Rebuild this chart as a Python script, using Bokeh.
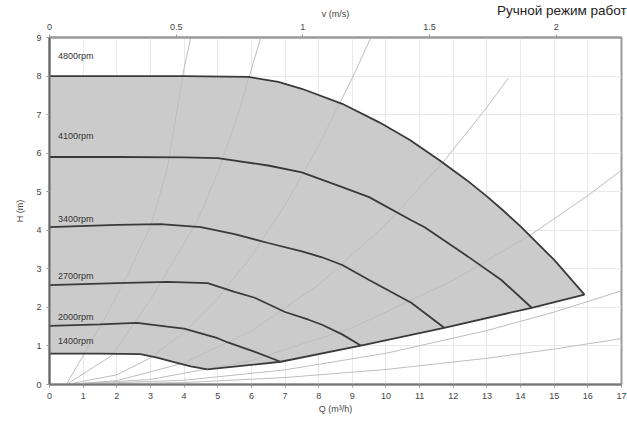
from bokeh.plotting import figure
from bokeh.models import Range1d, LinearAxis, FixedTicker, Div
from bokeh.layouts import column
from bokeh.embed import file_html
from bokeh.resources import INLINE
from bokeh.core.properties import value

# ---- data ----
speeds = ["4800rpm", "4100rpm", "3400rpm", "2700rpm", "2000rpm", "1400rpm"]
q_4800 = [0, 2, 4, 5.9, 6.8, 7.5, 8.7, 9.8, 10.7, 11.6, 12.4, 13.0, 13.5, 14.0, 15.0, 15.9]
h_4800 = [8.0, 8.0, 8.0, 7.98, 7.85, 7.67, 7.28, 6.8, 6.35, 5.81, 5.3, 4.88, 4.5, 4.1, 3.23, 2.33]
q_4100 = [0, 2, 4, 5.0, 6.5, 7.5, 8.7, 9.5, 10.75, 11.15, 12.45, 13.43, 14.33]
h_4100 = [5.9, 5.9, 5.89, 5.87, 5.68, 5.5, 5.12, 4.86, 4.26, 4.08, 3.31, 2.71, 1.99]
q_3400 = [0, 2, 3.3, 4.5, 5.5, 6.5, 7.5, 8.1, 8.7, 9.5, 10.75, 11.73]
h_3400 = [4.08, 4.14, 4.16, 4.08, 3.9, 3.67, 3.45, 3.3, 3.1, 2.71, 2.12, 1.47]
q_2700 = [0, 2, 3.5, 4.7, 5.5, 6.1, 7.0, 7.7, 8.1, 8.7, 9.25]
h_2700 = [2.58, 2.63, 2.66, 2.63, 2.4, 2.25, 1.88, 1.68, 1.55, 1.3, 1.01]
q_2000 = [0, 1.5, 2.6, 3.5, 4.0, 5.0, 5.3, 6.0, 6.87]
h_2000 = [1.52, 1.56, 1.6, 1.5, 1.45, 1.2, 1.09, 0.88, 0.59]
q_1400 = [0, 1.5, 2.7, 3.2, 3.7, 4.2, 4.69]
h_1400 = [0.8, 0.8, 0.79, 0.7, 0.58, 0.47, 0.39]
# lower limit (end points of the speed curves)
q_limit = [4.69, 6.87, 9.25, 11.73, 14.33, 15.9]
h_limit = [0.39, 0.59, 1.01, 1.47, 1.99, 2.33]
# label positions (H level of each speed label)
label_h = [8.52, 6.45, 4.29, 2.82, 1.76, 1.14]

# system curves (thin grey)
sys_q = [
    [0.5, 1.0, 1.7, 2.4, 3.0, 3.5, 4.0, 4.2],
    [0.5, 1.85, 3.0, 4.4, 5.0, 5.6, 6.28],
    [0.5, 2, 3, 4, 5, 6, 7, 8, 9, 9.55],
    [0.5, 2, 4, 6, 8, 10, 11.73, 13.0, 13.64],
    [0.5, 3, 6, 9, 12, 14.33, 16, 17],
    [0.5, 4, 7, 10, 13, 15, 17],
    [0.5, 4, 7, 10, 13, 15, 17],
]
sys_h = [
    [0, 0.75, 1.8, 3.0, 4.1, 5.6, 8.2, 9.0],
    [0, 0.75, 2.2, 4.25, 5.5, 7.0, 9.0],
    [0, 0.25, 0.69, 1.35, 2.23, 3.33, 4.65, 6.19, 7.95, 9.0],
    [0, 0.10, 0.56, 1.39, 2.59, 4.15, 5.80, 7.19, 7.95],
    [0, 0.13, 0.62, 1.47, 2.70, 3.90, 4.90, 5.56],
    [0, 0.11, 0.38, 0.81, 1.40, 1.88, 2.43],
    [0, 0.05, 0.18, 0.39, 0.68, 0.92, 1.19],
]

q_ticks = list(range(0, 18))
h_ticks = list(range(0, 10))
v_ticks = [0, 0.5, 1, 1.5, 2]
v_per_q = 1 / 7.53
title_text = "Ручной режим работ"

FONT = "Liberation Sans"

p = figure(width=627, height=421, output_backend="svg", toolbar_location=None,
           x_range=Range1d(0, 17), y_range=Range1d(0, 9),
           min_border_left=49, min_border_right=6, min_border_top=37, min_border_bottom=37)
p.extra_x_ranges = {"v": Range1d(0, 17 * v_per_q)}

p.outline_line_color = "#9a9a9a"
p.outline_line_width = 2
p.background_fill_color = "white"
p.border_fill_color = "white"

p.xgrid.ticker = FixedTicker(ticks=q_ticks)
p.ygrid.ticker = FixedTicker(ticks=h_ticks)
p.xgrid.grid_line_color = "#e8e8e8"
p.ygrid.grid_line_color = "#e8e8e8"

def style_axis(ax):
    ax.major_label_text_font = FONT
    ax.major_label_text_font_size = "9px"
    ax.major_label_text_color = "#444444"
    ax.axis_label_text_font = FONT
    ax.axis_label_text_font_size = "9px"
    ax.axis_label_text_font_style = "normal"
    ax.axis_label_text_color = "#444444"
    ax.minor_tick_line_color = None
    ax.major_tick_line_color = "#999999"
    ax.major_tick_in = 0
    ax.major_tick_out = 3
    ax.axis_line_color = "#666666"
    ax.axis_line_width = 2

xa = p.xaxis[0]
xa.ticker = FixedTicker(ticks=q_ticks)
xa.axis_label = "Q (m³/h)"
xa.axis_label_standoff = 2
style_axis(xa)
xa.axis_line_color = "#777777"

ya = p.yaxis[0]
ya.ticker = FixedTicker(ticks=h_ticks)
ya.axis_label = "H (m)"
ya.axis_label_standoff = 8
style_axis(ya)

top = LinearAxis(x_range_name="v", axis_label="v (m/s)")
top.ticker = FixedTicker(ticks=v_ticks)
style_axis(top)
top.axis_line_color = "#9a9a9a"
top.axis_label_standoff = 2
p.add_layout(top, "above")

# gray operating area
poly_q = [0] + q_4800 + q_limit[::-1][1:] + q_1400[::-1][1:]
poly_h = [h_1400[0]] + h_4800 + h_limit[::-1][1:] + h_1400[::-1][1:]
p.patch(poly_q, poly_h, fill_color="#cbcbcb", line_color=None)

# system curves
p.multi_line(sys_q, sys_h, line_color="#bdbdbd", line_width=1)

# speed curves
curves = [(q_4800, h_4800), (q_4100, h_4100), (q_3400, h_3400),
          (q_2700, h_2700), (q_2000, h_2000), (q_1400, h_1400)]
for qs, hs in curves:
    p.line(qs, hs, line_color="#3a3a3a", line_width=1.8)
p.line(q_limit, h_limit, line_color="#3a3a3a", line_width=1.8)

p.text(x=[0.25] * len(speeds), y=label_h, text=speeds,
       text_font=value(FONT), text_font_size="9px", text_color="#333333",
       text_baseline="middle", text_align="left")

title_div = Div(text=title_text, width=135, height=18,
                styles={"position": "absolute", "left": "492px", "top": "-4px",
                        "font-family": "Liberation Sans", "font-size": "13.5px",
                        "color": "#222222", "white-space": "nowrap", "z-index": "10",
                        "overflow": "hidden"})

layout = column(p, title_div, spacing=0)

open("out.html", "w").write(file_html(layout, INLINE))
